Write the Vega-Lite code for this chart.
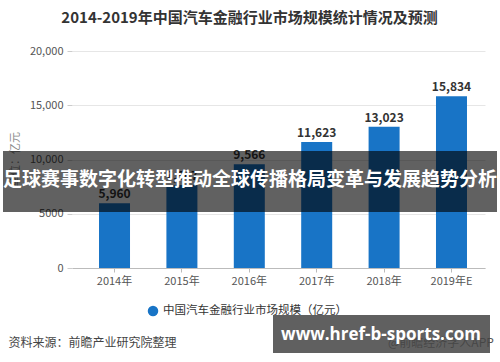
{
  "$schema": "https://vega.github.io/schema/vega-lite/v6.json",
  "autosize": {"type": "none"},
  "width": 413,
  "height": 217,
  "padding": {"left": 72, "top": 51, "right": 15, "bottom": 94},
  "background": "white",
  "config": {
    "font": "Noto Sans CJK SC",
    "view": {"stroke": null}
  },
  "title": {
    "text": "2014-2019年中国汽车金融行业市场规模统计情况及预测",
    "fontSize": 15,
    "fontWeight": "bold",
    "color": "#333333",
    "anchor": "middle",
    "dx": -29,
    "offset": 19
  },
  "data": {
    "values": [
      {"year": "2014年", "value": 5960, "series": "中国汽车金融行业市场规模（亿元）"},
      {"year": "2015年", "value": 7647, "series": "中国汽车金融行业市场规模（亿元）"},
      {"year": "2016年", "value": 9566, "series": "中国汽车金融行业市场规模（亿元）"},
      {"year": "2017年", "value": 11623, "series": "中国汽车金融行业市场规模（亿元）"},
      {"year": "2018年", "value": 13023, "series": "中国汽车金融行业市场规模（亿元）"},
      {"year": "2019年E", "value": 15834, "series": "中国汽车金融行业市场规模（亿元）"}
    ]
  },
  "layer": [
    {
      "mark": {"type": "bar"},
      "encoding": {
        "x": {
          "field": "year",
          "type": "nominal",
          "sort": null,
          "scale": {"paddingInner": 0.54, "paddingOuter": 0.334, "align": 0.6},
          "axis": {
            "title": "资料来源：前瞻产业研究院整理",
            "titleX": -64,
            "titleY": 74,
            "titleAlign": "left",
            "titleBaseline": "middle",
            "titleFontSize": 12,
            "titleFontWeight": "normal",
            "titleColor": "#444444",
            "labelAngle": 0,
            "labelFontSize": 11,
            "labelColor": "#555555",
            "labelPadding": 3,
            "domainColor": "#bbbbbb",
            "tickColor": "#bbbbbb",
            "tickSize": 4
          }
        },
        "y": {
          "field": "value",
          "type": "quantitative",
          "scale": {"domain": [0, 20000], "nice": false},
          "axis": {
            "values": [0, 5000, 10000, 15000, 20000],
            "labelExpr": "datum.value >= 10000 ? format(datum.value, ',') : datum.value",
            "title": "单位：亿元",
            "titleX": -57,
            "titleY": 108,
            "titleAngle": -90,
            "titleAlign": "center",
            "titleBaseline": "middle",
            "titleFontSize": 11,
            "titleFontWeight": "normal",
            "titleColor": "#888888",
            "labelFontSize": 11,
            "labelColor": "#555555",
            "labelPadding": 4,
            "domain": false,
            "tickColor": "#cccccc",
            "tickSize": 5,
            "gridColor": "#e6e6e6"
          }
        },
        "color": {
          "field": "series",
          "type": "nominal",
          "scale": {"range": ["#1874c6"]},
          "legend": {
            "title": null,
            "orient": "none",
            "legendX": 75,
            "legendY": 254,
            "symbolType": "circle",
            "symbolSize": 110,
            "labelFontSize": 11.5,
            "labelColor": "#333333",
            "labelLimit": 400
          }
        }
      }
    },
    {
      "mark": {"type": "text", "dy": -9, "fontSize": 12, "fontWeight": "bold", "color": "#333333"},
      "encoding": {
        "x": {"field": "year", "type": "nominal", "sort": null},
        "y": {"field": "value", "type": "quantitative"},
        "text": {"field": "value", "type": "quantitative", "format": ","}
      }
    },
    {
      "data": {"values": [{"label": "@前瞻经济学人APP"}]},
      "mark": {"type": "text", "align": "left", "baseline": "middle", "fontSize": 12, "color": "#555555"},
      "encoding": {
        "x": {"value": 316},
        "y": {"value": 292},
        "text": {"field": "label"}
      }
    },
    {
      "data": {"values": [{"top": 10780, "bottom": 5160}]},
      "mark": {"type": "rect", "color": "#000000", "opacity": 0.62},
      "encoding": {
        "x": {"value": -69},
        "x2": {"value": 425},
        "y": {"field": "top", "type": "quantitative"},
        "y2": {"field": "bottom"}
      }
    },
    {
      "data": {"values": [{"label": "足球赛事数字化转型推动全球传播格局变革与发展趋势分析", "pos": 8100}]},
      "mark": {"type": "text", "align": "center", "baseline": "middle", "fontSize": 19, "fontWeight": "bold", "color": "#ffffff"},
      "encoding": {
        "x": {"value": 178},
        "y": {"field": "pos", "type": "quantitative"},
        "text": {"field": "label"}
      }
    },
    {
      "data": {"values": [{"a": 1}]},
      "mark": {"type": "rect", "color": "#444444", "opacity": 0.85},
      "encoding": {
        "x": {"value": 201},
        "x2": {"value": 418},
        "y": {"value": 264},
        "y2": {"value": 302}
      }
    },
    {
      "data": {"values": [{"label": "www.href-b-sports.com"}]},
      "mark": {"type": "text", "align": "center", "baseline": "middle", "fontSize": 17, "fontWeight": "bold", "color": "#ffffff", "font": "Open Sans"},
      "encoding": {
        "x": {"value": 309},
        "y": {"value": 284},
        "text": {"field": "label"}
      }
    }
  ]
}
